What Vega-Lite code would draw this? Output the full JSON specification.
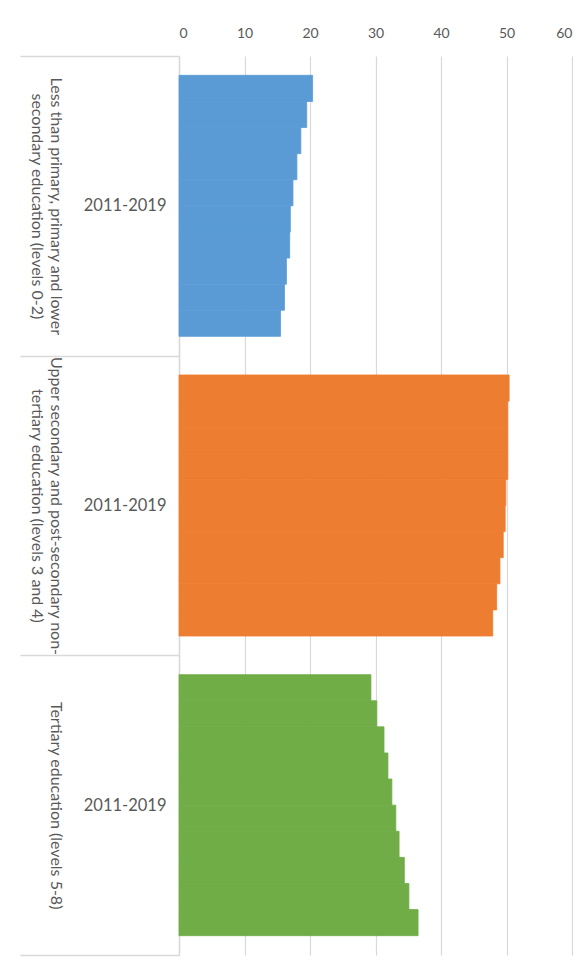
{
  "$schema": "https://vega.github.io/schema/vega-lite/v6.json",
  "width": 393,
  "height": 899,
  "autosize": {"type": "none"},
  "padding": {"left": 179, "top": 56, "right": 16, "bottom": 10},
  "background": "white",
  "config": {"view": {"stroke": null}, "font": "Lato"},
  "data": {
    "values": [
      {"level": "Less than primary, primary and lower secondary education (levels 0-2)", "year": "2010", "value": 20.4},
      {"level": "Less than primary, primary and lower secondary education (levels 0-2)", "year": "2011", "value": 19.5},
      {"level": "Less than primary, primary and lower secondary education (levels 0-2)", "year": "2012", "value": 18.6},
      {"level": "Less than primary, primary and lower secondary education (levels 0-2)", "year": "2013", "value": 18.0},
      {"level": "Less than primary, primary and lower secondary education (levels 0-2)", "year": "2014", "value": 17.4},
      {"level": "Less than primary, primary and lower secondary education (levels 0-2)", "year": "2015", "value": 17.0},
      {"level": "Less than primary, primary and lower secondary education (levels 0-2)", "year": "2016", "value": 16.9},
      {"level": "Less than primary, primary and lower secondary education (levels 0-2)", "year": "2017", "value": 16.4},
      {"level": "Less than primary, primary and lower secondary education (levels 0-2)", "year": "2018", "value": 16.1},
      {"level": "Less than primary, primary and lower secondary education (levels 0-2)", "year": "2019", "value": 15.5},
      {"level": "Upper secondary and post-secondary non-tertiary education (levels 3 and 4)", "year": "2010", "value": 50.4},
      {"level": "Upper secondary and post-secondary non-tertiary education (levels 3 and 4)", "year": "2011", "value": 50.2},
      {"level": "Upper secondary and post-secondary non-tertiary education (levels 3 and 4)", "year": "2012", "value": 50.2},
      {"level": "Upper secondary and post-secondary non-tertiary education (levels 3 and 4)", "year": "2013", "value": 50.2},
      {"level": "Upper secondary and post-secondary non-tertiary education (levels 3 and 4)", "year": "2014", "value": 49.9},
      {"level": "Upper secondary and post-secondary non-tertiary education (levels 3 and 4)", "year": "2015", "value": 49.8},
      {"level": "Upper secondary and post-secondary non-tertiary education (levels 3 and 4)", "year": "2016", "value": 49.5},
      {"level": "Upper secondary and post-secondary non-tertiary education (levels 3 and 4)", "year": "2017", "value": 49.0},
      {"level": "Upper secondary and post-secondary non-tertiary education (levels 3 and 4)", "year": "2018", "value": 48.5},
      {"level": "Upper secondary and post-secondary non-tertiary education (levels 3 and 4)", "year": "2019", "value": 47.9},
      {"level": "Tertiary education (levels 5-8)", "year": "2010", "value": 29.3},
      {"level": "Tertiary education (levels 5-8)", "year": "2011", "value": 30.2},
      {"level": "Tertiary education (levels 5-8)", "year": "2012", "value": 31.3},
      {"level": "Tertiary education (levels 5-8)", "year": "2013", "value": 31.9},
      {"level": "Tertiary education (levels 5-8)", "year": "2014", "value": 32.5},
      {"level": "Tertiary education (levels 5-8)", "year": "2015", "value": 33.1},
      {"level": "Tertiary education (levels 5-8)", "year": "2016", "value": 33.6},
      {"level": "Tertiary education (levels 5-8)", "year": "2017", "value": 34.4},
      {"level": "Tertiary education (levels 5-8)", "year": "2018", "value": 35.1},
      {"level": "Tertiary education (levels 5-8)", "year": "2019", "value": 36.5}
    ]
  },
  "layer": [
    {
      "mark": {"type": "bar", "strokeWidth": 0.8},
      "encoding": {
        "y": {
          "field": "level",
          "type": "nominal",
          "sort": [
            "Less than primary, primary and lower secondary education (levels 0-2)",
            "Upper secondary and post-secondary non-tertiary education (levels 3 and 4)",
            "Tertiary education (levels 5-8)"
          ],
          "scale": {"paddingInner": 0, "paddingOuter": 0},
          "axis": {
            "title": null,
            "labelExpr": "indexof(datum.value + '', 'education') >= 0 ? '2011-2019' : ''",
            "tickBand": "extent",
            "ticks": true,
            "tickSize": 159,
            "tickColor": "#d9d9d9",
            "tickWidth": 1.5,
            "domain": true,
            "domainColor": "#d9d9d9",
            "domainWidth": 1.5,
            "grid": false,
            "labelPadding": -146,
            "labelAlign": "right",
            "labelBaseline": "middle",
            "labelFontSize": 16.5,
            "labelColor": "#595959",
            "labelFont": "Lato"
          }
        },
        "yOffset": {
          "field": "year",
          "type": "ordinal",
          "scale": {"paddingInner": 0, "paddingOuter": 0.74}
        },
        "x": {
          "field": "value",
          "type": "quantitative",
          "scale": {"domain": [0, 60], "nice": false},
          "axis": {
            "orient": "top",
            "title": null,
            "values": [0, 10, 20, 30, 40, 50, 60],
            "format": "d",
            "grid": true,
            "gridColor": "#d9d9d9",
            "gridWidth": 1.2,
            "domain": false,
            "ticks": false,
            "labelPadding": 16,
            "labelFontSize": 14,
            "labelColor": "#595959",
            "labelFont": "Lato"
          }
        },
        "color": {
          "field": "level",
          "type": "nominal",
          "scale": {
            "domain": [
              "Less than primary, primary and lower secondary education (levels 0-2)",
              "Upper secondary and post-secondary non-tertiary education (levels 3 and 4)",
              "Tertiary education (levels 5-8)"
            ],
            "range": ["#5b9bd5", "#ed7d31", "#70ad47"]
          },
          "legend": null
        },
        "stroke": {
          "field": "level",
          "type": "nominal",
          "scale": {
            "domain": [
              "Less than primary, primary and lower secondary education (levels 0-2)",
              "Upper secondary and post-secondary non-tertiary education (levels 3 and 4)",
              "Tertiary education (levels 5-8)"
            ],
            "range": ["#5b9bd5", "#ed7d31", "#70ad47"]
          },
          "legend": null
        }
      }
    },
    {
      "mark": {"type": "point", "opacity": 0},
      "encoding": {
        "y": {
          "field": "level",
          "type": "nominal",
          "sort": [
            "Less than primary, primary and lower secondary education (levels 0-2)",
            "Upper secondary and post-secondary non-tertiary education (levels 3 and 4)",
            "Tertiary education (levels 5-8)"
          ],
          "scale": {"paddingInner": 0, "paddingOuter": 0},
          "axis": {
            "orient": "left",
            "title": null,
            "ticks": false,
            "domain": false,
            "grid": false,
            "labelAngle": 90,
            "labelAlign": "center",
            "labelBaseline": "top",
            "labelPadding": 116,
            "labelLineHeight": 19,
            "labelFontSize": 16,
            "labelColor": "#595959",
            "labelFont": "Lato",
            "labelLimit": 0,
            "labelExpr": "indexof(datum.value, 'Less') == 0 ? ['Less than primary, primary and lower', 'secondary education (levels 0-2)'] : indexof(datum.value, 'Upper') == 0 ? ['Upper secondary and post-secondary non-', 'tertiary education (levels 3 and 4)'] : datum.value"
          }
        }
      }
    }
  ],
  "resolve": {"scale": {"y": "independent"}}
}
